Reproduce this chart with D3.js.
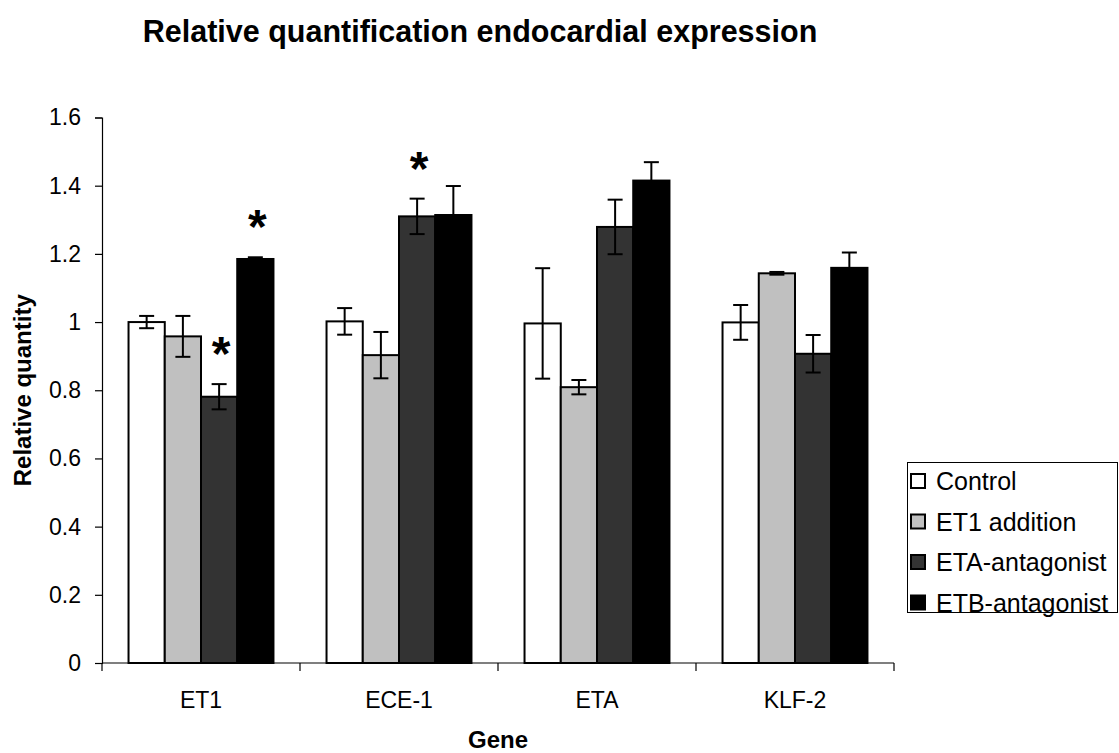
<!DOCTYPE html>
<html>
<head>
<meta charset="utf-8">
<script src="https://cdn.jsdelivr.net/npm/d3@7"></script>
<style>
  html, body { margin: 0; padding: 0; background: #fff; }
  svg { display: block; font-family: "Liberation Sans", Arial, sans-serif; }
</style>
</head>
<body>
<svg id="chart" width="1119" height="753"></svg>
<script>
// Genes on the x axis
const genes = ["ET1", "ECE-1", "ETA", "KLF-2"];

// Treatment groups (legend order) and their fills
const groups = ["Control", "ET1 addition", "ETA-antagonist", "ETB-antagonist"];
const groupFills = ["#ffffff", "#c0c0c0", "#333333", "#000000"];

// Relative quantity per gene, one array per treatment
const controlValues  = [1.000, 1.002, 0.996, 0.999];
const et1AddValues   = [0.958, 0.903, 0.809, 1.143];
const etaAntValues   = [0.781, 1.310, 1.279, 0.907];
const etbAntValues   = [1.185, 1.314, 1.415, 1.159];

// Error (half-width of the error bar)
const controlErr = [0.018, 0.039, 0.162, 0.051];
const et1AddErr  = [0.060, 0.068, 0.021, 0.004];
const etaAntErr  = [0.037, 0.052, 0.080, 0.055];
const etbAntErr  = [0.005, 0.085, 0.054, 0.045];

// Significant differences marked with an asterisk: [gene, group]
const significant = [["ET1", "ETA-antagonist"], ["ET1", "ETB-antagonist"], ["ECE-1", "ETA-antagonist"]];

// Y axis ticks
const yTicks = [0, 0.2, 0.4, 0.6, 0.8, 1.0, 1.2, 1.4, 1.6];

const seriesValues = [controlValues, et1AddValues, etaAntValues, etbAntValues];
const seriesErr = [controlErr, et1AddErr, etaAntErr, etbAntErr];

const rows = [];
genes.forEach((g, i) => {
  groups.forEach((s, j) => {
    rows.push({ gene: g, group: s, value: seriesValues[j][i], err: seriesErr[j][i], fill: groupFills[j] });
  });
});

const svg = d3.select("#chart");

const plot = { left: 102, right: 894, top: 117.5, bottom: 663 };

const x0 = d3.scaleBand()
  .domain(genes)
  .range([plot.left, plot.right])
  .paddingInner(0.268)
  .paddingOuter(0.134);

const x1 = d3.scaleBand()
  .domain(groups)
  .range([0, x0.bandwidth()]);

const y = d3.scaleLinear()
  .domain([0, 1.6])
  .range([plot.bottom, plot.top]);

// Title
svg.append("text")
  .attr("x", 480)
  .attr("y", 42)
  .attr("text-anchor", "middle")
  .attr("font-size", 30.5)
  .attr("font-weight", "bold")
  .text("Relative quantification endocardial expression");

// Y axis
const yAxis = svg.append("g")
  .attr("transform", `translate(${plot.left},0)`)
  .call(d3.axisLeft(y).tickValues(yTicks).tickSize(7).tickPadding(14)
    .tickFormat(d => String(+d.toFixed(1))));
yAxis.select(".domain").attr("stroke", "#000").attr("stroke-width", 1.2);
yAxis.selectAll(".tick line").attr("stroke", "#000").attr("stroke-width", 1.2);
yAxis.selectAll(".tick text").attr("font-size", 23).attr("fill", "#000")
  .attr("font-family", "\"Liberation Sans\", Arial, sans-serif");

// Bars
const bars = svg.append("g");
bars.selectAll("rect")
  .data(rows)
  .join("rect")
  .attr("x", d => x0(d.gene) + x1(d.group))
  .attr("y", d => y(d.value))
  .attr("width", x1.bandwidth())
  .attr("height", d => y(0) - y(d.value))
  .attr("fill", d => d.fill)
  .attr("stroke", "#000")
  .attr("stroke-width", 2);

// Error bars
const capHalf = 7.5;
const eb = svg.append("g").attr("stroke", "#000").attr("stroke-width", 2);
rows.forEach(d => {
  const cx = x0(d.gene) + x1(d.group) + x1.bandwidth() / 2;
  const yHi = y(d.value + d.err), yLo = y(d.value - d.err);
  eb.append("line").attr("x1", cx).attr("x2", cx).attr("y1", yHi).attr("y2", yLo);
  eb.append("line").attr("x1", cx - capHalf).attr("x2", cx + capHalf).attr("y1", yHi).attr("y2", yHi);
  eb.append("line").attr("x1", cx - capHalf).attr("x2", cx + capHalf).attr("y1", yLo).attr("y2", yLo);
});

// Significance asterisks above the error bars
svg.append("g").selectAll("text")
  .data(significant.map(([g, s]) => rows.find(r => r.gene === g && r.group === s)))
  .join("text")
  .attr("x", d => x0(d.gene) + x1(d.group) + x1.bandwidth() / 2 + 2)
  .attr("y", d => y(d.value + d.err) - 14)
  .attr("text-anchor", "middle")
  .attr("font-size", 48)
  .attr("font-weight", "bold")
  .text("*");

// X axis line, group boundary ticks and gene labels
const xg = svg.append("g");
xg.append("line")
  .attr("x1", plot.left).attr("x2", plot.right)
  .attr("y1", plot.bottom).attr("y2", plot.bottom)
  .attr("stroke", "#000").attr("stroke-width", 1.2);
const gap = (x0.step() - x0.bandwidth()) / 2;
const boundaries = genes.map(g => x0(g) - gap).concat([x0(genes[genes.length - 1]) + x0.bandwidth() + gap]);
xg.selectAll("line.tick")
  .data(boundaries)
  .join("line")
  .attr("class", "tick")
  .attr("x1", d => d).attr("x2", d => d)
  .attr("y1", plot.bottom).attr("y2", plot.bottom + 8)
  .attr("stroke", "#000").attr("stroke-width", 1.2);
xg.selectAll("text")
  .data(genes)
  .join("text")
  .attr("x", d => x0(d) + x0.bandwidth() / 2)
  .attr("y", 708)
  .attr("text-anchor", "middle")
  .attr("font-size", 23)
  .text(d => d);

// Axis titles
svg.append("text")
  .attr("x", 498)
  .attr("y", 748)
  .attr("text-anchor", "middle")
  .attr("font-size", 24)
  .attr("font-weight", "bold")
  .text("Gene");

svg.append("text")
  .attr("transform", `translate(31,${(plot.top + plot.bottom) / 2}) rotate(-90)`)
  .attr("text-anchor", "middle")
  .attr("font-size", 24)
  .attr("font-weight", "bold")
  .text("Relative quantity");

// Legend
const legend = svg.append("g");
legend.append("rect")
  .attr("x", 907.5).attr("y", 462.5)
  .attr("width", 210).attr("height", 150)
  .attr("fill", "#fff").attr("stroke", "#000").attr("stroke-width", 1);
groups.forEach((s, i) => {
  const cy = 481 + i * 40.5;
  legend.append("rect")
    .attr("x", 911).attr("y", cy - 7)
    .attr("width", 14).attr("height", 14)
    .attr("fill", groupFills[i]).attr("stroke", "#000").attr("stroke-width", 2);
  legend.append("text")
    .attr("x", 936).attr("y", cy + 9)
    .attr("font-size", 25)
    .text(s);
});
</script>
</body>
</html>
